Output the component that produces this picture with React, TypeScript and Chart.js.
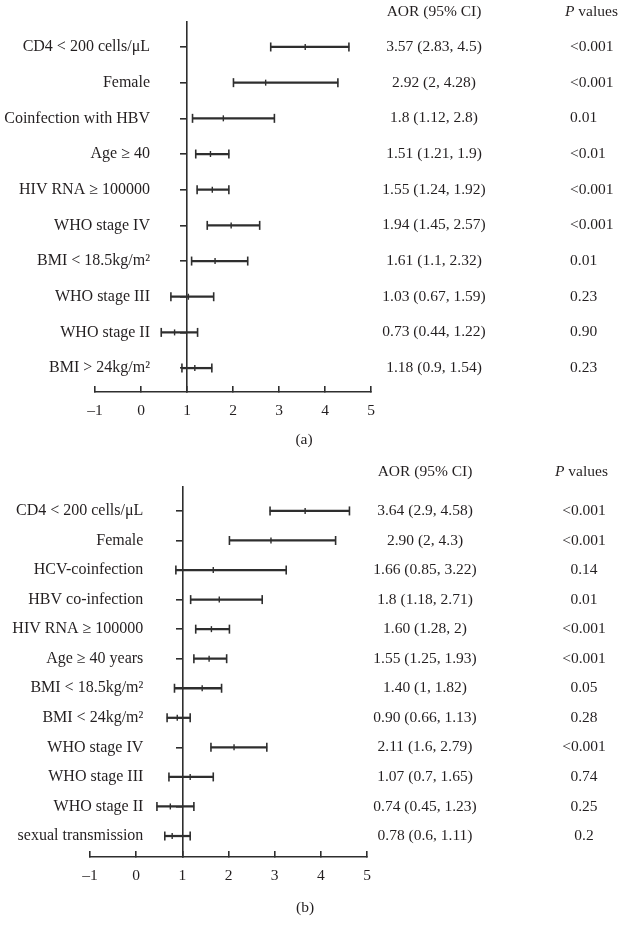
import React, { useEffect, useRef } from 'react';
import { Chart, registerables } from 'chart.js';

Chart.register(...registerables);

// ---------- Panel (a) ----------
const labelsA = [
  'CD4 < 200 cells/μL',
  'Female',
  'Coinfection with HBV',
  'Age ≥ 40',
  'HIV RNA ≥ 100000',
  'WHO stage IV',
  'BMI < 18.5kg/m²',
  'WHO stage III',
  'WHO stage II',
  'BMI > 24kg/m²',
];
const aorA = [
  '3.57 (2.83, 4.5)',
  '2.92 (2, 4.28)',
  '1.8 (1.12, 2.8)',
  '1.51 (1.21, 1.9)',
  '1.55 (1.24, 1.92)',
  '1.94 (1.45, 2.57)',
  '1.61 (1.1, 2.32)',
  '1.03 (0.67, 1.59)',
  '0.73 (0.44, 1.22)',
  '1.18 (0.9, 1.54)',
];
const pA = ['<0.001', '<0.001', '0.01', '<0.01', '<0.001', '<0.001', '0.01', '0.23', '0.90', '0.23'];
const lowA = [2.82, 2.01, 1.12, 1.19, 1.22, 1.44, 1.1, 0.65, 0.44, 0.89];
const midA = [3.57, 2.71, 1.79, 1.51, 1.55, 1.96, 1.61, 1.03, 0.73, 1.17];
const highA = [4.52, 4.28, 2.9, 1.91, 1.91, 2.58, 2.32, 1.58, 1.23, 1.54];

// ---------- Panel (b) ----------
const labelsB = [
  'CD4 < 200 cells/μL',
  'Female',
  'HCV-coinfection',
  'HBV co-infection',
  'HIV RNA ≥ 100000',
  'Age ≥ 40 years',
  'BMI < 18.5kg/m²',
  'BMI < 24kg/m²',
  'WHO stage IV',
  'WHO stage III',
  'WHO stage II',
  'sexual transmission',
];
const aorB = [
  '3.64 (2.9, 4.58)',
  '2.90 (2, 4.3)',
  '1.66 (0.85, 3.22)',
  '1.8 (1.18, 2.71)',
  '1.60 (1.28, 2)',
  '1.55 (1.25, 1.93)',
  '1.40 (1, 1.82)',
  '0.90 (0.66, 1.13)',
  '2.11 (1.6, 2.79)',
  '1.07 (0.7, 1.65)',
  '0.74 (0.45, 1.23)',
  '0.78 (0.6, 1.11)',
];
const pB = ['<0.001', '<0.001', '0.14', '0.01', '<0.001', '<0.001', '0.05', '0.28', '<0.001', '0.74', '0.25', '0.2'];
const lowB = [2.9, 2.02, 0.86, 1.18, 1.29, 1.25, 0.83, 0.67, 1.62, 0.71, 0.45, 0.62];
const midB = [3.66, 2.92, 1.67, 1.8, 1.63, 1.58, 1.43, 0.89, 2.12, 1.17, 0.74, 0.78];
const highB = [4.62, 4.32, 3.25, 2.73, 2.02, 1.96, 1.85, 1.17, 2.83, 1.67, 1.25, 1.17];

const xTicks = [-1, 0, 1, 2, 3, 4, 5];

const FONT = "'Liberation Serif', 'Times New Roman', serif";
const TEXT = '#231f20';
const LINE = '#2e2e2e';

type Cfg = {
  height: number;
  padLeft: number;
  padRight: number;
  padTop: number;
  xHeight: number;
  yMin: number;
  yMax: number;
  labelGap: number;
  aorX: number;
  headerY: number;
  pHeaderX: number;
  pX: number;
  pAlign: 'left' | 'center';
  caption: string;
  captionX: number;
  captionY: number;
};

const cfgA: Cfg = {
  height: 455,
  padLeft: 95,
  padRight: 247,
  padTop: 22,
  xHeight: 63,
  yMin: -0.7,
  yMax: 9.67,
  labelGap: 37,
  aorX: 434,
  headerY: 12,
  pHeaderX: 565,
  pX: 570,
  pAlign: 'left',
  caption: '(a)',
  captionX: 304,
  captionY: 440,
};

const cfgB: Cfg = {
  height: 476,
  padLeft: 90,
  padRight: 251,
  padTop: 32,
  xHeight: 74,
  yMin: -0.81,
  yMax: 11.71,
  labelGap: 39,
  aorX: 425,
  headerY: 17,
  pHeaderX: 555,
  pX: 584,
  pAlign: 'center',
  caption: '(b)',
  captionX: 305,
  captionY: 453,
};

function Panel(props: {
  labels: string[];
  aor: string[];
  pvals: string[];
  low: number[];
  mid: number[];
  high: number[];
  cfg: Cfg;
}) {
  const { labels, aor, pvals, low, mid, high, cfg } = props;
  const ref = useRef<HTMLCanvasElement | null>(null);

  useEffect(() => {
    if (!ref.current) return;
    const idx = labels.map((_, i) => i);

    const tablePlugin = {
      id: 'forestTable',
      afterDraw(chart: any) {
        const ctx = chart.ctx as CanvasRenderingContext2D;
        const ys = chart.scales.y;
        const axisX = chart.scales.x.getPixelForValue(1);
        ctx.save();
        ctx.fillStyle = TEXT;
        ctx.textBaseline = 'middle';
        // row labels (y-axis categories)
        ctx.font = `16px ${FONT}`;
        ctx.textAlign = 'right';
        idx.forEach((i) => {
          ctx.fillText(labels[i], axisX - cfg.labelGap, ys.getPixelForValue(i));
        });
        // headers
        ctx.font = `15.5px ${FONT}`;
        ctx.textAlign = 'center';
        ctx.fillText('AOR (95% CI)', cfg.aorX, cfg.headerY);
        ctx.textAlign = 'left';
        ctx.font = `italic 15.5px ${FONT}`;
        ctx.fillText('P', cfg.pHeaderX, cfg.headerY);
        const wP = ctx.measureText('P').width;
        ctx.font = `15.5px ${FONT}`;
        ctx.fillText(' values', cfg.pHeaderX + wP, cfg.headerY);
        // rows
        idx.forEach((i) => {
          const y = ys.getPixelForValue(i);
          ctx.textAlign = 'center';
          ctx.fillText(aor[i], cfg.aorX, y);
          ctx.textAlign = cfg.pAlign;
          ctx.fillText(pvals[i], cfg.pX, y);
        });
        // caption
        ctx.textAlign = 'center';
        ctx.fillText(cfg.caption, cfg.captionX, cfg.captionY);
        ctx.restore();
      },
    };

    const chart = new Chart(ref.current, {
      type: 'bar',
      data: {
        datasets: [
          {
            type: 'bar',
            data: idx.map((i) => ({ y: i, x: [low[i], high[i]] })) as any,
            backgroundColor: LINE,
            borderWidth: 0,
            barThickness: 1.6,
            grouped: false,
          } as any,
          {
            type: 'scatter',
            data: [
              ...idx.map((i) => ({ x: low[i], y: i })),
              ...idx.map((i) => ({ x: high[i], y: i })),
            ],
            pointStyle: 'line',
            rotation: 90,
            radius: 4.5,
            borderColor: LINE,
            backgroundColor: LINE,
            borderWidth: 1.6,
          } as any,
          {
            type: 'scatter',
            data: idx.map((i) => ({ x: mid[i], y: i })),
            pointStyle: 'line',
            rotation: 90,
            radius: 3,
            borderColor: LINE,
            backgroundColor: LINE,
            borderWidth: 1.4,
          } as any,
        ],
      },
      options: {
        indexAxis: 'y',
        responsive: false,
        animation: false,
        events: [],
        layout: {
          padding: { left: cfg.padLeft, right: cfg.padRight, top: cfg.padTop, bottom: 0 },
        },
        plugins: {
          legend: { display: false },
          tooltip: { enabled: false },
        },
        scales: {
          x: {
            type: 'linear',
            position: 'bottom',
            offset: false,
            min: xTicks[0],
            max: xTicks[xTicks.length - 1],
            afterBuildTicks: (ax: any) => {
              ax.ticks = xTicks.map((v) => ({ value: v }));
            },
            afterFit: (s: any) => {
              s.height = cfg.xHeight;
            },
            ticks: {
              padding: 16,
              color: TEXT,
              font: { family: FONT, size: 15.5 },
              callback: (v: any) => (Number(v) < 0 ? '–' + Math.abs(Number(v)) : String(v)),
            },
            grid: {
              offset: false,
              drawOnChartArea: false,
              drawTicks: true,
              tickLength: -6,
              color: LINE,
              lineWidth: 1.6,
            },
            border: { display: true, color: LINE, width: 1.6 },
          },
          y: {
            type: 'linear',
            position: { x: 1 } as any,
            offset: false,
            reverse: true,
            min: cfg.yMin,
            max: cfg.yMax,
            afterBuildTicks: (ax: any) => {
              ax.ticks = idx.map((i) => ({ value: i }));
            },
            ticks: {
              display: false,
              autoSkip: false,
            },
            grid: {
              offset: false,
              drawOnChartArea: false,
              drawTicks: true,
              tickLength: 6,
              color: LINE,
              lineWidth: 1.6,
            },
            border: { display: true, color: LINE, width: 1.6 },
          },
        },
      } as any,
      plugins: [tablePlugin],
    });

    return () => {
      chart.destroy();
    };
  }, []);

  return (
    <canvas
      ref={ref}
      width={618}
      height={cfg.height}
      style={{ display: 'block', width: 618, height: cfg.height }}
    />
  );
}

export default function App() {
  useEffect(() => {
    document.body.style.margin = '0';
    document.body.style.background = '#ffffff';
  }, []);
  return (
    <div style={{ position: 'absolute', left: 0, top: 0, width: 618, height: 931, background: '#fff' }}>
      <Panel labels={labelsA} aor={aorA} pvals={pA} low={lowA} mid={midA} high={highA} cfg={cfgA} />
      <Panel labels={labelsB} aor={aorB} pvals={pB} low={lowB} mid={midB} high={highB} cfg={cfgB} />
    </div>
  );
}
